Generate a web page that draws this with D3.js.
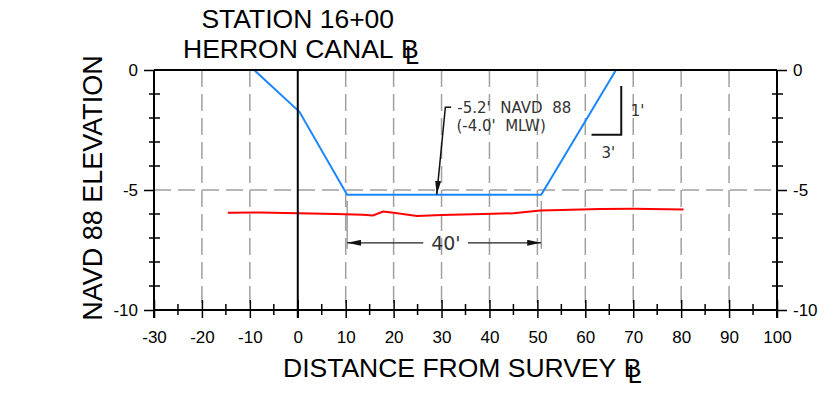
<!DOCTYPE html>
<html>
<head>
<meta charset="utf-8">
<script src="https://cdn.jsdelivr.net/npm/d3@7"></script>
<style>
  body { margin: 0; background: #fff; }
  svg { display: block; }
</style>
</head>
<body>
<svg id="chart"></svg>
<script>
// cross section data (feet)
const xTickLabels = [-30, -20, -10, 0, 10, 20, 30, 40, 50, 60, 70, 80, 90, 100];
const xMinorTicks = [-25, -15, -5, 5, 15, 25, 35, 45, 55, 65, 75, 85, 95];
const xGrid = [-20, -10, 10, 20, 30, 40, 50, 60, 70, 80, 90];
const yTickLabels = [0, -5, -10];
const yMinorTicks = [-1, -2, -3, -4, -6, -7, -8, -9];
const yGrid = [-5];

// design template (blue)
const designX = [-9.1, 0.35, 10.3, 50.8, 66.4];
const designY = [0, -1.74, -5.2, -5.2, 0];

// existing ground (red)
const groundX = [-14.6, -8, 0, 8, 13.6, 15.7, 17.8, 20, 24.9, 30, 38.7, 45, 50.6, 55, 63.1, 70, 80.5];
const groundY = [-5.95, -5.94, -5.97, -6.0, -6.03, -6.06, -5.9, -5.95, -6.08, -6.04, -6.0, -5.97, -5.85, -5.83, -5.79, -5.78, -5.81];

const W = 830, H = 407;
const svg = d3.select('#chart').attr('width', W).attr('height', H);

const x = d3.scaleLinear().domain([-30, 100]).range([154, 777]);
const y = d3.scaleLinear().domain([-10, 0]).range([310, 70]);

const sans = '"Liberation Sans", Arial, sans-serif';
const dejavu = '"DejaVu Sans", sans-serif';
const fmt = d => String(d);

// grid
svg.append('g').selectAll('line').data(xGrid).join('line')
    .attr('x1', d => x(d)).attr('x2', d => x(d))
    .attr('y1', y(0)).attr('y2', y(-10))
    .attr('stroke', '#a0a0a0').attr('stroke-width', 1.5)
    .attr('stroke-dasharray', '17,7');
svg.append('g').selectAll('line').data(yGrid).join('line')
    .attr('x1', x(-30)).attr('x2', x(100))
    .attr('y1', d => y(d)).attr('y2', d => y(d))
    .attr('stroke', '#a0a0a0').attr('stroke-width', 1.5)
    .attr('stroke-dasharray', '17,7');

// dimension extension lines
const dimX = [designX[2], designX[3]];
svg.append('g').selectAll('line').data(dimX).join('line')
    .attr('x1', d => x(d)).attr('x2', d => x(d))
    .attr('y1', y(-5.45)).attr('y2', y(-7.45))
    .attr('stroke', '#777').attr('stroke-width', 1);

// lines
const pts = (xs, ys) => xs.map((v, i) => [v, ys[i]]);
const line = d3.line().x(d => x(d[0])).y(d => y(d[1]));

svg.append('path').datum(pts(groundX, groundY))
    .attr('d', line).attr('fill', 'none')
    .attr('stroke', '#ff0000').attr('stroke-width', 2);

svg.append('path').datum(pts(designX, designY))
    .attr('d', line).attr('fill', 'none')
    .attr('stroke', '#1a86ff').attr('stroke-width', 2);

// axes
const xAxis = svg.append('g').attr('transform', `translate(0,${y(-10)})`)
    .call(d3.axisBottom(x).tickValues(xTickLabels).tickFormat(fmt).tickSize(8).tickPadding(13));
xAxis.select('.domain').remove();
xAxis.selectAll('.tick line').attr('y1', -10).attr('stroke-width', 1.5);
xAxis.selectAll('.tick text').attr('font-size', 17).attr('font-family', sans).attr('fill', '#000');

const yAxisL = svg.append('g').attr('transform', `translate(${x(-30)},0)`)
    .call(d3.axisLeft(y).tickValues(yTickLabels).tickFormat(fmt).tickSize(10).tickPadding(6));
yAxisL.select('.domain').remove();
yAxisL.selectAll('.tick line').attr('stroke-width', 1.5);
yAxisL.selectAll('.tick text').attr('font-size', 17).attr('font-family', sans).attr('fill', '#000');

const yAxisR = svg.append('g').attr('transform', `translate(${x(100)},0)`)
    .call(d3.axisRight(y).tickValues(yTickLabels).tickFormat(fmt).tickSize(10).tickPadding(6));
yAxisR.select('.domain').remove();
yAxisR.selectAll('.tick line').attr('stroke-width', 1.5);
yAxisR.selectAll('.tick text').attr('font-size', 17).attr('font-family', sans).attr('fill', '#000');

// minor ticks
svg.append('g').selectAll('line').data(xMinorTicks).join('line')
    .attr('x1', d => x(d)).attr('x2', d => x(d))
    .attr('y1', y(-10) - 6).attr('y2', y(-10) + 5)
    .attr('stroke', '#000').attr('stroke-width', 1.5);
[-30, 100].forEach(xv => {
    svg.append('g').selectAll('line').data(yMinorTicks).join('line')
        .attr('x1', x(xv) - 5).attr('x2', x(xv) + 6)
        .attr('y1', d => y(d)).attr('y2', d => y(d))
        .attr('stroke', '#000').attr('stroke-width', 1.5);
});

// frame and zero line
const frame = svg.append('g').attr('stroke', '#000').attr('stroke-width', 2);
frame.append('line').attr('x1', x(-30)).attr('x2', x(100)).attr('y1', y(0)).attr('y2', y(0));
frame.append('line').attr('x1', x(-30)).attr('x2', x(100)).attr('y1', y(-10)).attr('y2', y(-10));
[-30, 0, 100].forEach(xv => {
    frame.append('line').attr('x1', x(xv)).attr('x2', x(xv)).attr('y1', y(0)).attr('y2', y(-10) + 8);
});

// markers
const defs = svg.append('defs');
defs.append('marker').attr('id', 'arr').attr('viewBox', '0 0 14 6')
    .attr('refX', 14).attr('refY', 3).attr('markerWidth', 14).attr('markerHeight', 6)
    .attr('markerUnits', 'userSpaceOnUse').attr('orient', 'auto-start-reverse')
    .append('path').attr('d', 'M0,0 L14,3 L0,6 Z').attr('fill', '#111');

// 40' dimension
const dimY = -7.2;
svg.append('line')
    .attr('x1', x(dimX[0])).attr('x2', x(26.2))
    .attr('y1', y(dimY)).attr('y2', y(dimY))
    .attr('stroke', '#222').attr('stroke-width', 1.2)
    .attr('marker-start', 'url(#arr)');
svg.append('line')
    .attr('x1', x(35.5)).attr('x2', x(dimX[1]))
    .attr('y1', y(dimY)).attr('y2', y(dimY))
    .attr('stroke', '#222').attr('stroke-width', 1.2)
    .attr('marker-end', 'url(#arr)');
svg.append('text').attr('x', x(30.9)).attr('y', y(dimY) + 7)
    .attr('text-anchor', 'middle').attr('font-family', dejavu).attr('font-size', 19)
    .attr('fill', '#333').text("40'");

// elevation callout
svg.append('path')
    .attr('d', `M${x(32)},${y(-1.55)} L${x(30.8)},${y(-1.55)} L${x(29)},${y(-5.2)}`)
    .attr('fill', 'none').attr('stroke', '#111').attr('stroke-width', 1.5)
    .attr('marker-end', 'url(#arr)');
const callout = svg.append('text').attr('font-family', dejavu).attr('font-size', 15)
    .attr('fill', '#333').style('white-space', 'pre');
callout.append('tspan').attr('x', x(33.3)).attr('y', y(-1.8)).text("-5.2'  NAVD  88");
callout.append('tspan').attr('x', x(33.1)).attr('y', y(-2.55)).text("(-4.0'  MLW)");

// slope indicator 3:1
svg.append('path')
    .attr('d', `M${x(61.3)},${y(-2.7)} L${x(67.5)},${y(-2.7)} L${x(67.5)},${y(-0.67)}`)
    .attr('fill', 'none').attr('stroke', '#111').attr('stroke-width', 2);
svg.append('text').attr('x', x(69.5)).attr('y', y(-1.7) + 5)
    .attr('font-family', dejavu).attr('font-size', 15).attr('fill', '#333').text("1'");
svg.append('text').attr('x', x(64.8)).attr('y', y(-3.4) + 6)
    .attr('text-anchor', 'middle')
    .attr('font-family', dejavu).attr('font-size', 15).attr('fill', '#333').text("3'");

// titles; baseline symbol drawn as B with an offset L
const labelSize = 26.5;
const withBL = (xPos, yPos, str) => {
    const t = svg.append('text').attr('x', xPos).attr('y', yPos)
        .attr('font-family', sans).attr('font-size', labelSize).text(str);
    const w = t.node().getComputedTextLength() + labelSize * 0.278;
    svg.append('text').attr('x', xPos + w).attr('y', yPos)
        .attr('font-family', sans).attr('font-size', labelSize).text('B');
    svg.append('text').attr('x', xPos + w + 4).attr('y', yPos + 6)
        .attr('font-family', sans).attr('font-size', labelSize * 0.95).text('L');
};

svg.append('text').attr('x', x(0)).attr('y', 28).attr('text-anchor', 'middle')
    .attr('font-family', sans).attr('font-size', labelSize).text('STATION 16+00');
withBL(183, 58, 'HERRON CANAL');
withBL(283, 377, 'DISTANCE FROM SURVEY');

svg.append('text').attr('transform', `translate(102,188) rotate(-90)`)
    .attr('text-anchor', 'middle')
    .attr('font-family', sans).attr('font-size', 27).text('NAVD 88 ELEVATION');
</script>
</body>
</html>
